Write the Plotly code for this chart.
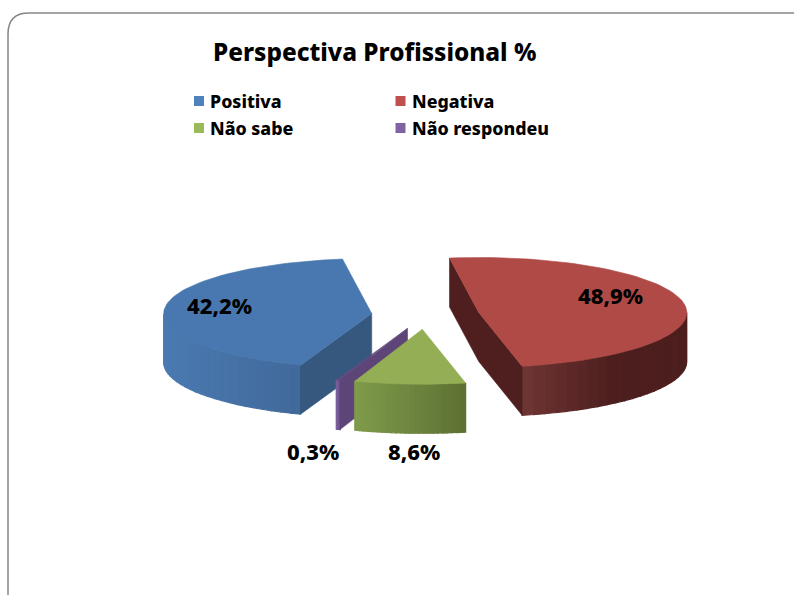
import math
import plotly.graph_objects as go

categories = ["Positiva", "Negativa", "Não sabe", "Não respondeu"]
shares = [42.2, 48.9, 8.6, 0.3]
title_text = "Perspectiva Profissional %"

top_colors = ["#4878AF", "#B04A46", "#93AE54", "#654A80"]
legend_colors = ["#4F81BD", "#C0504D", "#9BBB59", "#8064A2"]
radial_colors = ["#36587F", "#4F1E1E", "#7F9B4A", "#5D4577"]
wall_left = ["#4A7AB1", "#6E3533", "#7F9B4A", "#7A5F9A"]
wall_right = ["#41699A", "#4D1E1E", "#5D7032", "#6A4F88"]

CX, CY, RX, RY, DEPTH, EXPLODE = 425.5, 315.0, 208.0, 55.0, 49.0, 0.26
START = -160.0
FONT = "Noto Sans"


def hex_mix(a, b, f):
    ca = [int(a[i:i + 2], 16) for i in (1, 3, 5)]
    cb = [int(b[i:i + 2], 16) for i in (1, 3, 5)]
    return "#%02x%02x%02x" % tuple(round(x + (y - x) * f) for x, y in zip(ca, cb))


def pt(c, t):
    r = math.radians(t)
    return c[0] + RX * math.sin(r), c[1] - RY * math.cos(r)


def down(p):
    return (p[0], p[1] + DEPTH)


def poly(fig, pts, color, lw=0.6):
    xs = [p[0] for p in pts] + [pts[0][0]]
    ys = [p[1] for p in pts] + [pts[0][1]]
    fig.add_trace(go.Scatter(x=xs, y=ys, mode="lines", fill="toself", fillcolor=color,
                             line=dict(color=color, width=lw), hoverinfo="skip",
                             showlegend=False))


fig = go.Figure()

slices = []
a = START
for s in shares:
    span = s * 3.6
    slices.append((a, a + span))
    a += span

for i in [0, 3, 2, 1]:
    t0, t1 = slices[i]
    mid = math.radians((t0 + t1) / 2)
    c = (CX + EXPLODE * RX * math.sin(mid), CY - EXPLODE * RY * math.cos(mid))
    p0, p1 = pt(c, t0), pt(c, t1)

    # curved outer wall, split in vertical strips for the shading
    vis0, vis1 = None, None
    for off in (0, 360, -360):
        lo, hi = max(t0 + off, 90), min(t1 + off, 270)
        if lo < hi:
            vis0, vis1 = lo, hi
            break
    if vis0 is not None:
        n = 24
        xs = sorted(pt(c, vis0 + (vis1 - vis0) * k / n)[0] for k in (0, n))
        # the red wall reaches its darkest tone about half way along
        reach = 0.55 if i == 1 else 1.0
        for k in range(n):
            ta = vis0 + (vis1 - vis0) * k / n
            tb = vis0 + (vis1 - vis0) * (k + 1) / n
            pa, pb = pt(c, ta), pt(c, tb)
            f = ((pa[0] + pb[0]) / 2 - xs[0]) / max(xs[1] - xs[0], 1e-6)
            poly(fig, [pa, pb, down(pb), down(pa)],
                 hex_mix(wall_left[i], wall_right[i], min(1.0, f / reach)), lw=1.2)

    # radial faces that look toward the viewer
    if i == 0 or i == 3:
        poly(fig, [c, p0, down(p0), down(c)], radial_colors[i])
    elif i == 1:
        poly(fig, [p0, c, p1, down(p1), down(c), down(p0)], radial_colors[i])

    # top face
    arc = [pt(c, t0 + (t1 - t0) * k / 80) for k in range(81)]
    poly(fig, [c] + arc, top_colors[i])

legend_x = [199, 400.5, 199, 400.5]
legend_y = [101, 101, 128, 128]
fig.add_trace(go.Scatter(x=legend_x, y=legend_y, mode="markers",
                         marker=dict(symbol="square", size=10, color=legend_colors, line=dict(width=0)),
                         hoverinfo="skip", showlegend=False))
for name, x, y in zip(categories, legend_x, legend_y):
    fig.add_annotation(x=x + 9, y=y, text=name, showarrow=False, xanchor="left", yanchor="middle",
                       font=dict(family=FONT, size=17.8, color="#000000", weight=800))

label_pos = [(219, 305), (610, 295), (414, 451), (313, 451)]
for s, (x, y) in zip(shares, label_pos):
    fig.add_annotation(x=x, y=y, text=f"{s:.1f}%".replace(".", ","), showarrow=False,
                       font=dict(family=FONT, size=22, color="#000000", weight=800))

fig.add_annotation(x=374, y=51, text=title_text, showarrow=False,
                   font=dict(family=FONT, size=24.3, color="#000000", weight=800))

fig.add_shape(type="path", xref="x", yref="y",
              path="M 8 605 L 8 34 Q 8 13 29 13 L 810 13 L 810 605 Z",
              line=dict(color="#868686", width=1.5), fillcolor="rgba(0,0,0,0)", layer="below")

fig.update_layout(width=794, height=595, margin=dict(l=0, r=0, t=0, b=0),
                  paper_bgcolor="white", plot_bgcolor="white", showlegend=False,
                  xaxis=dict(range=[0, 794], visible=False, fixedrange=True),
                  yaxis=dict(range=[595, 0], visible=False, fixedrange=True))
fig.write_html("out.html", config={"displayModeBar": False},
               post_script="document.body.style.margin='0';document.documentElement.style.overflow='hidden';")
